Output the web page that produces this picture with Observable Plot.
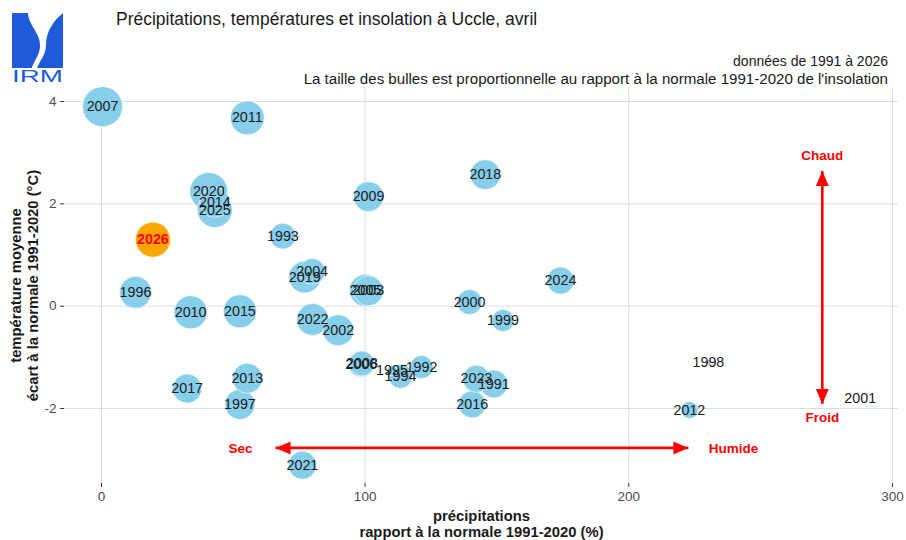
<!DOCTYPE html>
<html><head><meta charset="utf-8">
<script src="https://cdn.jsdelivr.net/npm/d3@7"></script>
<script src="https://cdn.jsdelivr.net/npm/@observablehq/plot@0.6"></script>
<style>
body{margin:0;background:#fff;font-family:"Liberation Sans",Arial,Helvetica,sans-serif;}
#wrap{position:relative;width:906px;height:540px;overflow:hidden;}
#chart{position:absolute;left:0;top:0;}
#logo{position:absolute;left:0;top:0;}
.t{position:absolute;white-space:nowrap;color:#1a1a1a;}
#title{left:116px;top:9px;font-size:17.5px;}
#sub1{right:18px;top:53px;font-size:14px;}
#sub2{right:18px;top:70px;font-size:15.1px;}
</style></head><body>
<div id="wrap">
  <div id="chart"></div>
  <svg id="logo" width="80" height="90">
    <path d="M12,13 L28,13 C29,27 41,33 40,47 C39,57 33,62 32,68 L12,68 Z" fill="#1f5bd8"/>
    <path d="M63,13 L63,68 L37,68 C40,60 46,55 46,45 C46,32 53,21 63,13 Z" fill="#1f5bd8"/>
    <text x="12" y="82" font-size="17" font-family="Liberation Sans, Arial, sans-serif" fill="#1f5bd8" textLength="51" lengthAdjust="spacingAndGlyphs">IRM</text>
  </svg>
  <div class="t" id="title">Précipitations, températures et insolation à Uccle, avril</div>
  <div class="t" id="sub1">données de 1991 à 2026</div>
  <div class="t" id="sub2">La taille des bulles est proportionnelle au rapport à la normale 1991-2020 de l'insolation</div>
</div>
<script>
// ---- data ----
const years  = [1991,1992,1993,1994,1995,1996,1997,1998,1999,2000,2001,2002,2003,2004,2005,2006,2007,2008,2009,2010,2011,2012,2013,2014,2015,2016,2017,2018,2019,2020,2021,2022,2023,2024,2025,2026];
// précipitations, rapport à la normale 1991-2020 (%)
const precip = [148.8,121.4,68.8,113.4,110.2,12.9,52.5,230.2,152.3,139.6,287.8,89.8,101.2,79.9,100.1,98.5,0.4,98.8,101.3,33.8,55.3,223.0,55.3,43.0,52.5,140.6,32.5,145.6,77.1,40.7,76.2,80.1,142.2,174.1,43.0,19.5];
// température moyenne, écart à la normale 1991-2020 (°C)
const temp   = [-1.52,-1.19,1.37,-1.37,-1.26,0.27,-1.92,-1.10,-0.28,0.08,-1.80,-0.47,0.30,0.68,0.31,-1.13,3.90,-1.12,2.14,-0.12,3.68,-2.03,-1.41,2.03,-0.10,-1.92,-1.61,2.57,0.57,2.24,-3.11,-0.26,-1.42,0.50,1.88,1.30];
// insolation, rapport à la normale 1991-2020 (%)
const insol  = [121,105,114,108,68,135,128,56,102,111,45,131,128,114,135,114,165,111,128,139,142,87,128,128,139,118,125,128,135,157,121,135,118,118,146,146];

const xTicks = [0,100,200,300];
const yTicks = [-2,0,2,4];

// annotations
const arrowSecHumide = {x: [66, 222.6], y: -2.77};
const arrowChaudFroid = {x: 273.4, y: [2.64, -1.91]};
const annLabels = ["Sec","Humide","Chaud","Froid"];
const annX = [52.7, 239.7, 273.4, 273.4];
const annY = [-2.78, -2.78, 2.95, -2.17];

const currentYear = 2026;

// ---- build ----
const data = years.map((yr,i)=>({year: yr, precip: precip[i], temp: temp[i], insol: insol[i]}));
const past = data.filter(d=>d.year!==currentYear);
const cur = data.filter(d=>d.year===currentYear);
const ann = annLabels.map((t,i)=>({text:t, x: annX[i], y: annY[i]}));

const hLink = [{x1: arrowSecHumide.x[0], x2: arrowSecHumide.x[1], y1: arrowSecHumide.y, y2: arrowSecHumide.y}];
const vLink = [{x1: arrowChaudFroid.x, x2: arrowChaudFroid.x, y1: arrowChaudFroid.y[0], y2: arrowChaudFroid.y[1]}];
const heads = [
  {x: arrowSecHumide.x[0], y: arrowSecHumide.y, rot: -90},
  {x: arrowSecHumide.x[1], y: arrowSecHumide.y, rot: 90},
  {x: arrowChaudFroid.x, y: arrowChaudFroid.y[0], rot: 0},
  {x: arrowChaudFroid.x, y: arrowChaudFroid.y[1], rot: 180}
];
// filled arrow head with its tip at the anchor point, pointing up
const headSymbol = {draw(ctx){ ctx.moveTo(0,0); ctx.lineTo(6.5,15); ctx.lineTo(-6.5,15); ctx.closePath(); }};

const font = "Liberation Sans, Arial, Helvetica, sans-serif";

const chart = Plot.plot({
  width: 906, height: 540,
  marginLeft: 64, marginRight: 8, marginTop: 87, marginBottom: 57,
  style: {fontFamily: font, background: "transparent", overflow: "visible"},
  x: {domain: [-14.03, 302.3]},
  y: {domain: [-3.466, 4.274]},
  r: {type: "sqrt", domain: [45, 165], range: [0, 20]},
  marks: [
    Plot.gridX(xTicks, {stroke: "#dcdcdc", strokeOpacity: 1, strokeWidth: 1}),
    Plot.gridY(yTicks, {stroke: "#dcdcdc", strokeOpacity: 1, strokeWidth: 1}),
    Plot.axisX({ticks: xTicks, tickSize: 4, tickPadding: 4, tickFormat: d=>String(d), fontSize: 13.5, color: "#4d4d4d", stroke: "#333", label: null}),
    Plot.axisY({ticks: yTicks, tickSize: 4, tickPadding: 4, tickFormat: d=>String(d), fontSize: 13.5, color: "#4d4d4d", stroke: "#333", label: null}),
    Plot.text(["précipitations\nrapport à la normale 1991-2020 (%)"], {frameAnchor: "bottom", dy: 40, lineAnchor: "middle", text: d=>d, fontSize: 14.8, fontWeight: "bold", fill: "#1a1a1a", lineHeight: 1.1}),
    Plot.text(["température moyenne\nécart à la normale 1991-2020 (°C)"], {frameAnchor: "left", dx: -40.5, rotate: -90, textAnchor: "middle", lineAnchor: "middle", text: d=>d, fontSize: 14.8, fontWeight: "bold", fill: "#1a1a1a", lineHeight: 1.15}),
    // bubbles
    Plot.dot(past, {x: "precip", y: "temp", r: "insol", fill: "#87CEEB", stroke: "white", strokeWidth: 0.6}),
    Plot.dot(cur, {x: "precip", y: "temp", r: "insol", fill: "#FFA500", stroke: "white", strokeWidth: 0.6}),
    // labels
    Plot.text(past, {x: "precip", y: "temp", text: d=>String(d.year), fontSize: 14.3, fill: "#1a1a1a"}),
    Plot.text(cur, {x: "precip", y: "temp", text: d=>String(d.year), fontSize: 14.3, fill: "red", fontWeight: "bold"}),
    // arrows
    Plot.link(hLink, {x1: "x1", x2: "x2", y1: "y1", y2: "y2", stroke: "red", strokeWidth: 2.6}),
    Plot.link(vLink, {x1: "x1", x2: "x2", y1: "y1", y2: "y2", stroke: "red", strokeWidth: 2.6}),
    Plot.dot(heads, {x: "x", y: "y", rotate: "rot", symbol: headSymbol, r: 5, fill: "red", stroke: "none"}),
    Plot.text(ann, {x: "x", y: "y", text: "text", fill: "red", fontWeight: "bold", fontSize: 13.5})
  ]
});
document.getElementById("chart").appendChild(chart);
</script>
</body></html>
